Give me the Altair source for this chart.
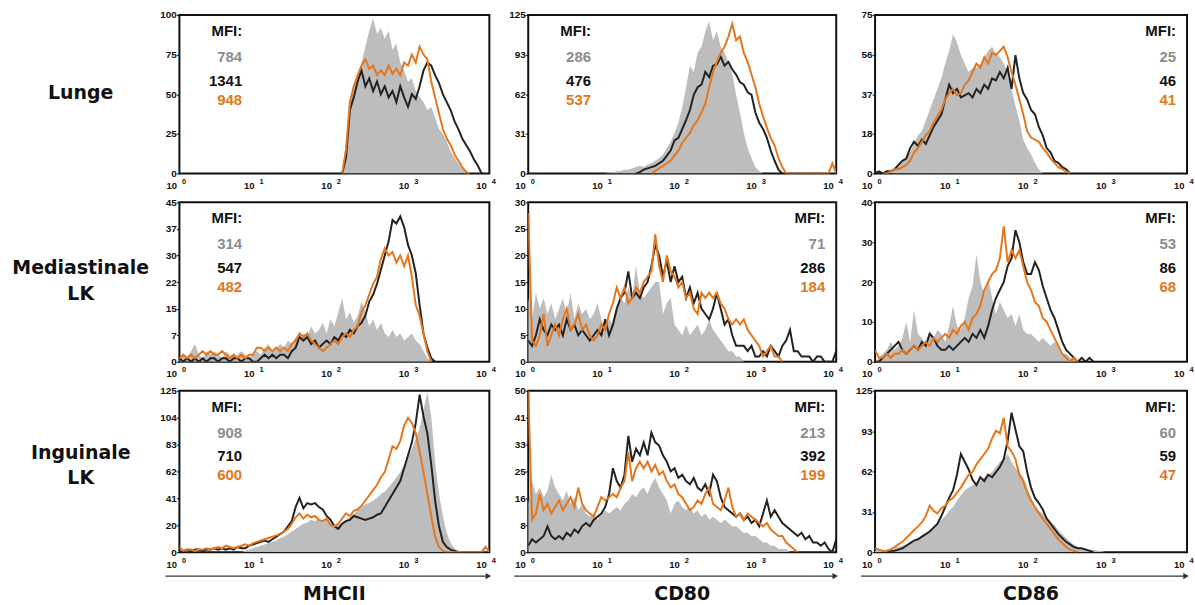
import altair as alt
import pandas as pd

BIN = 0.05  # histogram bin width, in decades of fluorescence

# ---------------- Row 1: Lunge ----------------
A_GRAY_X0 = 2.10
A_GRAY = [0,20,45,55,62,70,80,90,98,88, 92,85,90,78,82,70,65,58,60,52, 48,45,40,42,35,28,25,20,14,10, 6,3,1,0]
A_BLACK_X0 = 2.10
A_BLACK = [0,10,40,48,58,65,55,60,52,58, 50,55,48,52,45,55,48,42,50,47, 55,65,70,68,62,57,50,45,40,33, 28,22,18,14,9,5,0]
A_ORANGE_X0 = 2.10
A_ORANGE = [0,15,45,55,62,68,72,66,68,62, 65,62,68,63,66,62,70,68,75,70, 80,75,72,58,48,38,28,22,18,12, 8,4,1,0]

B_GRAY_X0 = 1.00
B_GRAY = [0,1,1,2,2,3,3,4,5,6, 5,7,8,10,12,15,20,25,32,40, 52,68,85,80,95,100,112,120,105,112, 100,95,88,78,62,48,32,20,12,5, 2,0]
B_BLACK_X0 = 1.40
B_BLACK = [0,1,3,4,5,6,8,10,14,18, 26,28,35,42,50,62,68,70,80,76, 85,86,92,85,88,82,78,72,70,64, 62,48,40,35,28,18,10,3,0]
B_ORANGE_X0 = 1.60
B_ORANGE = [0,2,4,6,8,10,14,18,24,28, 32,38,42,48,55,68,80,88,95,100, 108,118,105,108,95,88,78,68,55,45, 36,28,22,12,5,0, 0,0,0,0,0,0,0,0,0,0, 0,8,0]

C_GRAY_X0 = 0.10
C_GRAY = [0,1,1,2,3,5,8,10,14,18, 20,25,30,35,40,45,52,58,66,62, 56,52,48,50,50,52,55,58,60,57, 55,52,48,40,32,25,16,12,9,5, 2,0]
C_BLACK_X0 = 0.00
C_BLACK = [0,1,0,1,1,2,4,6,7,12, 15,13,16,14,18,22,25,28,35,42, 38,40,36,37,38,36,40,38,42,40, 45,44,48,45,50,40,56,45,38,35, 30,28,22,18,12,10,6,5,3,2, 0]
C_ORANGE_X0 = 0.10
C_ORANGE = [0,0,1,2,2,3,4,6,10,12, 15,18,20,24,27,30,35,38,40,37, 38,42,44,48,52,50,55,52,57,56, 58,60,55,48,42,35,28,20,17,16, 15,12,10,7,5,3,2,1,0]

# ---------------- Row 2: Mediastinale LK ----------------
D_GRAY_X0 = 0.00
D_GRAY = [1,2,1,3,5,2,1,3,2,3, 2,1,3,2,1,2,3,2,1,2, 3,2,4,5,3,4,5,4,6,5, 7,6,8,7,10,8,9,11,8,12, 10,14,18,12,14,11,13,17,14,10, 12,9,11,8,7,9,7,8,6,7, 8,6,5,3,1,0]
D_BLACK_X0 = 0.00
D_BLACK = [1,0,1,0,1,0,1,0,1,1, 0,1,1,0,1,1,0,1,1,0, 0,1,2,1,2,1,2,2,1,3, 4,7,6,7,5,6,4,5,6,5, 7,6,8,7,9,8,10,11,13,17, 19,22,26,30,34,40,39,41,38,33, 30,25,16,8,4,1,0]
D_ORANGE_X0 = 0.00
D_ORANGE = [1,2,1,2,1,2,3,2,3,2, 2,3,2,1,2,1,2,1,2,2, 4,4,3,4,3,4,3,4,3,5, 6,8,7,8,6,5,4,3,4,5, 6,5,7,8,7,9,10,14,16,19, 22,24,29,32,30,31,28,30,27,30, 24,16,13,8,3,0]

E_GRAY_X0 = 0.00
E_GRAY = [12,8,13,10,12,9,11,8,10,12, 9,13,8,11,9,10,8,9,11,8, 6,8,7,10,12,11,14,12,18,13, 12,13,14,15,15,9,11,12,7,6, 5,7,5,6,7,5,6,8,6,5, 4,3,2,2,1,1,0]
E_BLACK_X0 = 0.00
E_BLACK = [4,3,5,8,6,5,7,6,7,5, 8,6,7,5,6,5,4,5,6,5, 8,5,7,10,12,13,17,12,13,12, 14,15,18,22,20,16,19,15,18,15, 16,12,14,11,13,10,9,8,10,13, 10,7,8,5,3,3,3,2,3,1, 1,2,1,3,2,1,3,4,6,2, 2,1,1,1,0,1,1,0,0,0, 2]
E_ORANGE_X0 = 0.00
E_ORANGE = [28,4,3,5,9,3,5,7,5,8, 10,6,7,9,6,7,5,4,5,7, 6,9,11,14,12,14,11,12,14,13, 15,16,17,24,18,15,20,17,16,14, 15,12,13,10,9,13,12,13,12,13, 11,10,8,7,8,7,8,6,5,4, 3,1,2,3,1,1,0]

F_GRAY_X0 = 0.00
F_GRAY = [0,1,2,3,5,3,4,6,10,5, 13,7,6,4,8,6,8,7,5,9, 14,9,8,11,16,19,27,20,17,21, 16,12,15,13,11,12,9,12,8,7, 7,6,5,6,5,4,5,4,2,2, 1,1,0]
F_BLACK_X0 = 0.00
F_BLACK = [0,0,1,2,3,4,5,3,2,3, 4,3,5,4,7,6,4,3,3,4, 3,4,5,6,5,7,6,8,6,9, 13,16,18,20,24,26,33,30,25,22, 22,25,23,19,16,13,11,8,5,3, 2,1,0,1,0,1,0]
F_ORANGE_X0 = 0.00
F_ORANGE = [3,1,1,2,1,2,2,3,2,3, 4,3,4,5,4,6,5,6,7,6, 8,7,9,10,8,11,12,14,18,20, 22,23,26,34,25,28,26,28,24,20, 18,15,14,11,10,8,6,4,2,1, 0,1,0]

# ---------------- Row 3: Inguinale LK ----------------
G_GRAY_X0 = 0.80
G_GRAY = [0,1,2,3,4,5,6,7,8,9, 11,12,14,16,18,20,22,23,25,24, 26,23,25,22,20,21,23,25,27,30, 32,35,37,38,40,42,45,47,50,54, 58,62,68,74,80,88,96,110,124,105, 70,45,28,15,7,3,1,0]
G_BLACK_X0 = 0.00
G_BLACK = [0,1,2,1,2,2,1,2,2,3, 2,3,2,3,2,4,3,3,5,6, 7,8,9,8,10,12,14,16,20,24, 35,42,34,38,37,38,35,33,28,25, 20,18,22,24,25,28,27,26,25,26, 27,29,30,35,40,45,50,55,65,75, 85,100,122,105,92,68,40,20,8,4, 2,1,0]
G_ORANGE_X0 = 0.00
G_ORANGE = [4,1,2,2,1,2,2,3,2,3, 4,3,5,4,3,4,5,6,5,7, 8,9,10,11,12,13,14,16,18,22, 27,30,26,29,27,28,25,24,26,21, 20,22,26,30,28,32,33,36,40,44, 48,52,58,62,72,82,80,86,98,104, 100,92,78,62,45,28,12,4,1,0, 0,0,0,0,0,0,0,0,0,4, 0]

H_GRAY_X0 = 0.00
H_GRAY = [15,22,18,20,17,19,24,20,18,16, 19,15,17,13,15,12,11,12,10,12, 13,12,13,14,13,15,16,18,17,19, 20,18,21,23,20,18,16,12,15,16, 14,13,14,12,13,11,12,10,11,10, 9,10,9,8,8,7,6,6,5,5, 4,3,3,2,2,1,1,1,0]
H_BLACK_X0 = 0.00
H_BLACK = [2,4,3,4,5,8,5,4,5,4, 6,5,7,6,8,9,8,10,11,12, 14,18,26,22,20,24,36,28,32,30, 34,30,37,34,33,30,28,25,26,23, 24,22,21,23,20,19,21,18,24,22, 17,14,13,12,11,12,10,11,9,10, 8,12,16,11,13,11,9,8,7,6, 5,6,4,5,3,3,2,3,1,0, 4]
H_ORANGE_X0 = 0.00
H_ORANGE = [50,10,12,18,13,15,12,14,16,13, 15,17,14,20,15,13,12,11,14,17, 16,17,18,17,20,22,31,22,26,28, 26,28,25,27,24,25,22,20,21,18, 17,15,13,14,16,15,18,20,15,14, 13,16,20,14,11,12,10,12,11,10, 9,8,9,7,6,5,5,3,2,1, 0]

I_GRAY_X0 = 0.00
I_GRAY = [1,2,1,2,3,4,4,5,6,7, 8,10,12,14,16,19,22,25,28,32, 35,40,44,48,50,52,54,55,58,60, 62,66,70,72,76,70,65,62,58,50, 42,36,32,30,27,24,21,17,14,11, 8,6,4,3,3,2,2,1,1,0]
I_BLACK_X0 = 0.15
I_BLACK = [0,1,1,2,3,5,7,9,10,12, 14,16,19,22,28,35,42,48,60,76, 70,64,56,52,58,55,60,58,62,66, 72,86,108,95,82,78,62,50,42,38, 33,26,22,18,14,11,8,6,4,3, 3,2,1,0]
I_ORANGE_X0 = 0.00
I_ORANGE = [3,2,1,1,2,4,6,8,11,14, 17,20,23,28,36,32,30,34,36,40, 42,46,50,55,60,62,68,72,76,80, 88,94,92,104,82,78,72,60,55,46, 40,35,30,26,22,18,14,10,7,4, 2,1,0]

# ---------------- labels / axes ----------------
ROW_LABELS = [["Lunge"], ["Mediastinale", "LK"], ["Inguinale", "LK"]]
MARKERS = ["MHCII", "CD80", "CD86"]
Y_MAX = [[100, 125, 75], [45, 30, 40], [125, 50, 125]]
Y_DIV = [[4, 4, 4], [6, 6, 4], [6, 6, 4]]
MFI = [[("784", "1341", "948"), ("286", "476", "537"), ("25", "46", "41")],
       [("314", "547", "482"), ("71", "286", "184"), ("53", "86", "68")],
       [("908", "710", "600"), ("213", "392", "199"), ("60", "59", "47")]]
MFI_SIDE = [["left", "left", "right"], ["left", "right", "right"], ["left", "right", "right"]]
DECADES = [0, 1, 2, 3, 4]

SERIES = {
    (0, 0): (A_GRAY_X0, A_GRAY, A_BLACK_X0, A_BLACK, A_ORANGE_X0, A_ORANGE),
    (0, 1): (B_GRAY_X0, B_GRAY, B_BLACK_X0, B_BLACK, B_ORANGE_X0, B_ORANGE),
    (0, 2): (C_GRAY_X0, C_GRAY, C_BLACK_X0, C_BLACK, C_ORANGE_X0, C_ORANGE),
    (1, 0): (D_GRAY_X0, D_GRAY, D_BLACK_X0, D_BLACK, D_ORANGE_X0, D_ORANGE),
    (1, 1): (E_GRAY_X0, E_GRAY, E_BLACK_X0, E_BLACK, E_ORANGE_X0, E_ORANGE),
    (1, 2): (F_GRAY_X0, F_GRAY, F_BLACK_X0, F_BLACK, F_ORANGE_X0, F_ORANGE),
    (2, 0): (G_GRAY_X0, G_GRAY, G_BLACK_X0, G_BLACK, G_ORANGE_X0, G_ORANGE),
    (2, 1): (H_GRAY_X0, H_GRAY, H_BLACK_X0, H_BLACK, H_ORANGE_X0, H_ORANGE),
    (2, 2): (I_GRAY_X0, I_GRAY, I_BLACK_X0, I_BLACK, I_ORANGE_X0, I_ORANGE),
}

COL_W = [311, 309, 313]
ROW_H = [159, 160, 162]
LABEL_W = 140
COL_GAP = 39
ROW_GAP = 29

GRAY_FILL = "#bdbdbd"
BLACK = "#222222"
ORANGE = "#e5761c"
GRAY_TXT = "#8c8c8c"
ORANGE_TXT = "#e07820"
FRAME = "#111111"

BIG_FONT = "DejaVu Sans"
FONT = "Liberation Sans"

ONE = pd.DataFrame({"k": [0]})


def frame(x0, vals):
    return pd.DataFrame({"x": [round(x0 + i * BIN, 3) for i in range(len(vals))], "y": vals})


def text_at(txt, x, y, color, size, font, align="center", weight="bold"):
    return alt.Chart(ONE).mark_text(
        text=txt, align=align, baseline="middle", font=font, fontSize=size,
        fontWeight=weight, color=color
    ).encode(x=alt.value(x), y=alt.value(y))


XSCALE = alt.Scale(domain=[0, 4], nice=False, zero=False)
# base "10" of each decade label
AX_BASE = alt.Axis(values=DECADES, labelExpr="'10'", title=None, grid=False, ticks=False,
                   domain=False, orient="bottom", labelAlign="right", labelOffset=-3,
                   labelPadding=7, labelFlush=False, labelOverlap=False, labelFont=FONT,
                   labelFontSize=9.5, labelFontWeight="bold", labelColor="#111")
# raised exponent of each decade label
AX_EXP = alt.Axis(values=DECADES, labelExpr="datum.value", title=None, grid=False, ticks=False,
                  domain=False, orient="bottom", labelAlign="left", labelOffset=2,
                  labelPadding=4, labelFlush=False, labelOverlap=False, labelFont=FONT,
                  labelFontSize=7.5, labelFontWeight="bold", labelColor="#111")


def panel(r, c):
    w, h = COL_W[c], ROW_H[r]
    ymax, n = Y_MAX[r][c], Y_DIV[r][c]
    gx0, g, bx0, b, ox0, o = SERIES[(r, c)]
    ys = alt.Y("y:Q", scale=alt.Scale(domain=[0, ymax], nice=False, zero=True),
               axis=alt.Axis(values=[ymax * i / n for i in range(n + 1)],
                             labelExpr="floor(datum.value)", title=None, grid=False,
                             domain=False, tickSize=3, tickColor="#111", tickWidth=1,
                             labelPadding=0, labelFlush=False, labelOverlap=False,
                             labelFont=FONT, labelFontSize=10, labelFontWeight="bold",
                             labelColor="#111"))
    area = alt.Chart(frame(gx0, g)).mark_area(color=GRAY_FILL, clip=True).encode(
        x=alt.X("x:Q", scale=XSCALE, axis=AX_BASE), y=ys)
    blk = alt.Chart(frame(bx0, b)).mark_line(color=BLACK, strokeWidth=2, clip=True).encode(
        x=alt.X("x:Q", scale=XSCALE, axis=AX_EXP), y=ys)
    org = alt.Chart(frame(ox0, o)).mark_line(color=ORANGE, strokeWidth=2, clip=True).encode(
        x=alt.X("x:Q", scale=XSCALE, axis=None), y=ys)
    layers = [area, blk, org]

    tx = 63 if MFI_SIDE[r][c] == "left" else w - 11
    g_t, b_t, o_t = MFI[r][c]
    layers += [
        text_at("MFI:", tx, 16, "#111", 15, FONT, "right"),
        text_at(g_t, tx, 42, GRAY_TXT, 15, FONT, "right"),
        text_at(b_t, tx, 66, "#111", 15, FONT, "right"),
        text_at(o_t, tx, 85, ORANGE_TXT, 15, FONT, "right"),
    ]
    if r == 2:
        layers += [
            alt.Chart(ONE).mark_rule(color="#333", strokeWidth=1.2).encode(
                x=alt.value(-14), x2=alt.value(w - 3), y=alt.value(h + 24)),
            alt.Chart(ONE).mark_point(shape="triangle-right", filled=True, size=40,
                                      color="#333", opacity=1).encode(
                x=alt.value(w - 1), y=alt.value(h + 24)),
            text_at(MARKERS[c], w / 2, h + 42, "#111", 19, BIG_FONT),
        ]
    return alt.layer(*layers).resolve_axis(x="independent").properties(
        width=w, height=h, view=alt.ViewBackground(stroke=FRAME, strokeWidth=2))


ROW_LABEL_Y = [[78], [66, 92], [63, 88]]


def label_col(r):
    h = ROW_H[r]
    layers = [text_at(t, 80, y, "#111", 19, BIG_FONT)
              for t, y in zip(ROW_LABELS[r], ROW_LABEL_Y[r])]
    if r == 0:
        # invisible anchor fixing the top-left corner of the figure
        layers.append(alt.Chart(ONE).mark_rule(strokeOpacity=0).encode(
            x=alt.value(0), y=alt.value(-13), y2=alt.value(-12)))
    return alt.layer(*layers).properties(
        width=LABEL_W, height=h, view=alt.ViewBackground(stroke="transparent"))


cells = []
for r in range(3):
    cells.append(label_col(r))
    cells.extend(panel(r, c) for c in range(3))

chart = alt.concat(*cells, columns=4, spacing={"row": ROW_GAP, "column": COL_GAP},
                   bounds="flush").properties(padding=0, background="white")

chart.save("out.html", embed_options={"renderer": "svg", "actions": False})
